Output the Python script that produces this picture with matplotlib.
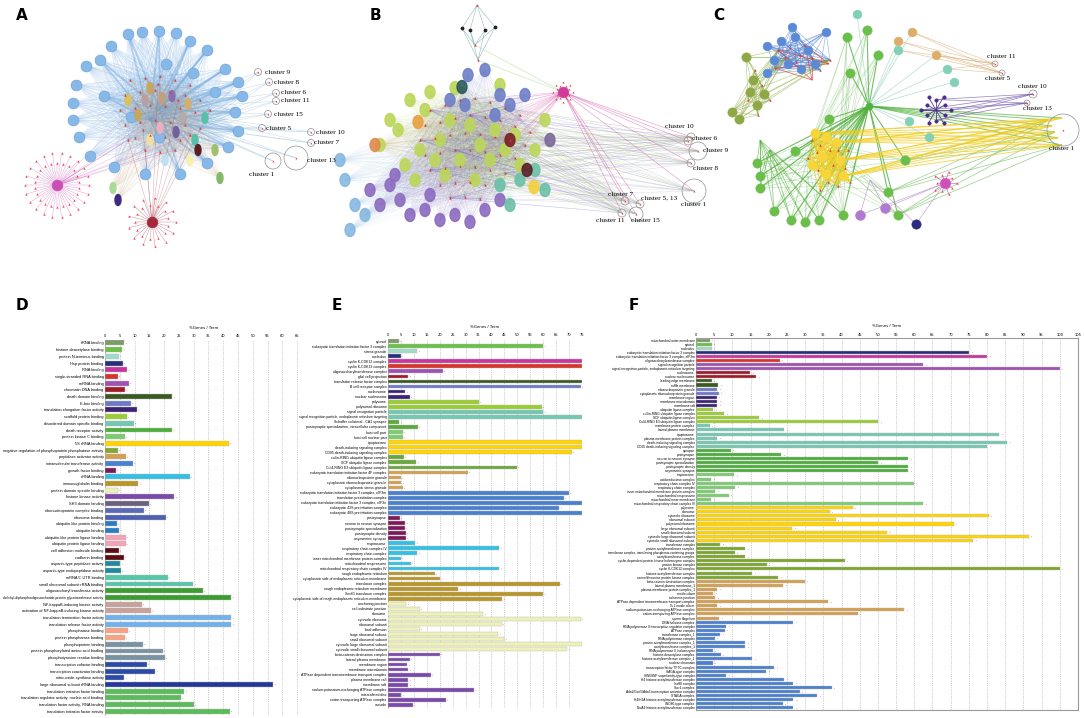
import numpy as np
import matplotlib.pyplot as plt
from matplotlib.collections import LineCollection
from matplotlib.patches import Circle, Ellipse

W, H = 1084, 718

# ---------------- bar chart data ----------------
d_labels = ["tRNA binding", "histone deacetylase binding", "protein N-terminus binding", "Hsp protein binding",
            "RNA binding", "single-stranded RNA binding", "mRNA binding", "chromatin DNA binding",
            "death domain binding", "E-box binding", "translation elongation factor activity",
            "scaffold protein binding", "disordered domain specific binding", "death receptor activity",
            "protein kinase C binding", "5S rRNA binding",
            "negative regulation of phosphoprotein phosphatase activity", "peptidase activator activity",
            "intramolecular transferase activity", "growth factor binding", "rRNA binding",
            "immunoglobulin binding", "protein domain specific binding", "histone kinase activity",
            "SH3 domain binding", "ribonucleoprotein complex binding", "ribosome binding",
            "ubiquitin-like protein binding", "ubiquitin binding", "ubiquitin-like protein ligase binding",
            "ubiquitin protein ligase binding", "cell adhesion molecule binding", "cadherin binding",
            "aspartic-type peptidase activity", "aspartic-type endopeptidase activity", "mRNA 5'-UTR binding",
            "small ribosomal subunit rRNA binding", "oligosaccharyl transferase activity",
            "dolichyl-diphosphooligosaccharide-protein glycotransferase activity",
            "NF-kappaB-inducing kinase activity", "activation of NF-kappaB-inducing kinase activity",
            "translation termination factor activity", "translation release factor activity",
            "phosphatase binding", "protein phosphatase binding", "phosphoprotein binding",
            "protein phosphorylated amino acid binding", "phosphotyrosine residue binding",
            "transcription cofactor binding", "transcription coactivator binding",
            "nitric-oxide synthase activity", "large ribosomal subunit rRNA binding",
            "translation initiation factor binding", "translation regulator activity, nucleic acid binding",
            "translation factor activity, RNA binding", "translation initiation factor activity"]
d_values = [6.5, 5.8, 4.6, 6.0, 7.5, 4.3, 8.0, 6.8, 22.8, 8.8, 10.8, 7.4, 9.7, 22.8, 6.8, 41.8,
            4.3, 7.1, 9.5, 3.7, 28.8, 11.3, 4.3, 23.4, 14.9, 13.1, 20.5, 4.0, 4.9, 7.0, 7.0, 4.6,
            6.3, 5.2, 5.4, 21.2, 29.9, 33.2, 42.8, 12.4, 15.6, 42.8, 42.8, 7.7, 6.8, 12.8, 19.5,
            20.3, 14.1, 17.0, 6.5, 57.0, 26.9, 25.7, 30.1, 42.3]
d_groups = [('#7d9b6a', 1), ('#6cc04a', 1), ('#9fdcc8', 1), ('#27307a', 1), ('#c8359e', 1),
            ('#d8352a', 1), ('#a052b4', 1), ('#a21a2a', 1), ('#3b5a22', 1), ('#6c7ac8', 1),
            ('#3c2274', 1), ('#9acd32', 1), ('#72c8b0', 1), ('#4caf3c', 1), ('#7ccc70', 1),
            ('#ffd400', 1), ('#82a832', 1), ('#d4a050', 1), ('#4a80d0', 1), ('#7a1a5a', 1),
            ('#34c0e4', 1), ('#b8962a', 1), ('#eef2b8', 1), ('#7a4aaa', 1), ('#6a6080', 1),
            ('#5a6ab4', 1), ('#5060b0', 1), ('#2a7cc4', 2), ('#f4a2b8', 2), ('#5a0c12', 2),
            ('#208a9a', 2), ('#56c6aa', 2), ('#3c9c32', 2), ('#c8a29a', 2), ('#72b2e8', 2),
            ('#f8a282', 2), ('#7a92a2', 3), ('#2c4aa8', 3), ('#24389c', 1), ('#5cbc5c', 4)]

e_labels = ["cytosol", "eukaryotic translation initiation factor 3 complex", "stress granule", "nucleolus",
            "cyclin K-CDK12 complex", "cyclin K-CDK13 complex", "oligosaccharyltransferase complex",
            "glial cell projection", "translation release factor complex", "B cell receptor complex",
            "nucleosome", "nuclear nucleosome", "polysome", "polysomal ribosome", "signal recognition particle",
            "signal recognition particle, endoplasmic reticulum targeting", "Schaffer collateral - CA1 synapse",
            "postsynaptic specialization, intracellular component", "host cell part", "host cell nuclear part",
            "ripoptosome", "death-inducing signaling complex", "CD95 death-inducing signaling complex",
            "cullin-RING ubiquitin ligase complex", "SCF ubiquitin ligase complex",
            "Cul4-RING E3 ubiquitin ligase complex", "eukaryotic translation initiation factor 4F complex",
            "ribonucleoprotein granule", "cytoplasmic ribonucleoprotein granule", "cytoplasmic stress granule",
            "eukaryotic translation initiation factor 3 complex, eIF3m", "translation preinitiation complex",
            "eukaryotic translation initiation factor 3 complex, eIF3e", "eukaryotic 43S preinitiation complex",
            "eukaryotic 48S preinitiation complex", "postsynapse", "neuron to neuron synapse",
            "postsynaptic specialization", "postsynaptic density", "asymmetric synapse", "respirasome",
            "respiratory chain complex IV", "respiratory chain complex",
            "inner mitochondrial membrane protein complex", "mitochondrial respirasome",
            "mitochondrial respiratory chain complex IV", "rough endoplasmic reticulum",
            "cytoplasmic side of endoplasmic reticulum membrane", "translocon complex",
            "rough endoplasmic reticulum membrane", "Sec61 translocon complex",
            "cytoplasmic side of rough endoplasmic reticulum membrane", "anchoring junction",
            "cell-substrate junction", "ribosome", "cytosolic ribosome", "ribosomal subunit", "focal adhesion",
            "large ribosomal subunit", "small ribosomal subunit", "cytosolic large ribosomal subunit",
            "cytosolic small ribosomal subunit", "beta-catenin destruction complex", "lateral plasma membrane",
            "membrane region", "membrane microdomain", "ATPase dependent transmembrane transport complex",
            "plasma membrane raft", "membrane raft", "sodium:potassium-exchanging ATPase complex",
            "intercalated disc", "cation-transporting ATPase complex", "vacuole"]
e_values = [4.1, 60, 11.4, 4.9, 75, 75, 21.3, 7.8, 75, 74.5, 6.7, 8.4, 35.2, 59.5, 60, 75, 4.4, 11.6,
            5.8, 5.8, 75, 75, 71, 6, 10.9, 49.7, 30.8, 4.9, 5.2, 5.7, 70, 68, 75, 66.2, 75, 4.5, 6.7,
            6.5, 6.9, 6.9, 10.6, 43, 11.4, 4.9, 8.8, 43, 18.1, 20, 66.5, 27.2, 60, 44.2, 7.1, 12.2,
            36.9, 74.5, 44, 12.4, 42.7, 45, 75, 69.3, 20, 8.5, 7.5, 7.8, 16.6, 7.8, 7.8, 33.4, 5.2,
            22.3, 9.7]
e_groups = [('#7d9b6a', 1), ('#6cc04a', 1), ('#9fdcc8', 1), ('#27307a', 1), ('#c8359e', 1),
            ('#d8352a', 1), ('#a052b4', 1), ('#a21a2a', 1), ('#3b5a22', 1), ('#6c7ac8', 1),
            ('#3c2274', 2), ('#9acd32', 2), ('#72c8b0', 2), ('#5aaa3c', 2), ('#7ccc70', 2),
            ('#ffd400', 3), ('#6aa83a', 3), ('#d4a050', 4), ('#4a80d0', 5), ('#7a1a5a', 5),
            ('#34c0e4', 6), ('#b8962a', 6), ('#eef2b8', 10), ('#7a4aaa', 11)]

f_labels = ["mitochondrial outer membrane", "cytosol", "nucleolus",
            "eukaryotic translation initiation factor 3 complex",
            "eukaryotic translation initiation factor 3 complex, eIF3m", "oligosaccharyltransferase complex",
            "signal recognition particle", "signal recognition particle, endoplasmic reticulum targeting",
            "nucleosome", "nuclear nucleosome", "leading edge membrane", "ruffle membrane",
            "ribonucleoprotein granule", "cytoplasmic ribonucleoprotein granule", "membrane region",
            "membrane microdomain", "membrane raft", "ubiquitin ligase complex",
            "cullin-RING ubiquitin ligase complex", "SCF ubiquitin ligase complex",
            "Cul4-RING E3 ubiquitin ligase complex", "membrane protein complex", "lateral plasma membrane",
            "ripoptosome", "plasma membrane protein complex", "death-inducing signaling complex",
            "CD95 death-inducing signaling complex", "synapse", "postsynapse", "neuron to neuron synapse",
            "postsynaptic specialization", "postsynaptic density", "asymmetric synapse", "respirasome",
            "oxidoreductase complex", "respiratory chain complex IV", "respiratory chain complex",
            "inner mitochondrial membrane protein complex", "mitochondrial respirasome",
            "mitochondrial inner membrane", "mitochondrial respiratory chain complex IV", "polysome",
            "ribosome", "cytosolic ribosome", "ribosomal subunit", "polysomal ribosome",
            "large ribosomal subunit", "small ribosomal subunit", "cytosolic large ribosomal subunit",
            "cytosolic small ribosomal subunit", "transferase complex", "protein acetyltransferase complex",
            "transferase complex, transferring phosphorus-containing groups", "acetyltransferase complex",
            "cyclin-dependent protein kinase holoenzyme complex", "protein kinase complex",
            "cyclin K-CDK12 complex", "histone acetyltransferase complex",
            "serine/threonine protein kinase complex", "beta-catenin destruction complex",
            "lateral plasma membrane_1", "plasma membrane protein complex_1", "motile cilium",
            "adherens junction", "ATPase dependent transmembrane transport complex", "9+2 motile cilium",
            "sodium:potassium-exchanging ATPase complex", "cation-transporting ATPase complex",
            "sperm flagellum", "DNA helicase complex", "RNA polymerase II transcription regulator complex",
            "ATPase complex", "transferase complex_1", "RNA polymerase complex",
            "protein acetyltransferase complex_1", "acetyltransferase complex_1",
            "RNA polymerase II, holoenzyme", "histone deacetylase complex",
            "histone acetyltransferase complex_1", "nuclear chromatin", "transcription factor TFTC complex",
            "SAGA-type complex", "SWI/SNF superfamily-type complex", "H4 histone acetyltransferase complex",
            "Ino80 complex", "Swr1 complex", "Ada2/Gcn5/Ada3 transcription activator complex",
            "STAGA complex", "H4/H2A histone acetyltransferase complex", "INO80-type complex",
            "NuA4 histone acetyltransferase complex"]
f_values = [3.8, 4.3, 4.3, 75, 80, 23, 62.5, 100, 14.8, 16.6, 4.3, 6.1, 5.9, 6.2, 5.7, 5.9, 5.9, 4.8,
            7.7, 17.3, 50, 3.8, 24.2, 83.4, 5.9, 85.5, 80, 9.5, 23.5, 58.4, 50, 58.4, 58.4, 10.5, 4.2,
            59.8, 10.7, 5.3, 9, 4.2, 62.5, 43.1, 36.7, 80.4, 38.4, 70.8, 26.5, 52.6, 91.4, 76.2, 6.6,
            13.6, 10.6, 13.6, 40.9, 19.4, 100, 15.4, 22.6, 29.9, 23.9, 5.9, 4.8, 5.3, 36.4, 5.9, 57.2,
            44.4, 6.4, 26.7, 8.2, 7.9, 6.6, 5.1, 13.6, 13.6, 4.6, 6.8, 15.4, 4.6, 21.4, 19.2, 8.2,
            24.3, 26.7, 37.3, 28.5, 33.3, 26.7, 23.8, 26.7]
f_groups = [('#7d9b6a', 1), ('#6cc04a', 1), ('#9fdcc8', 1), ('#27307a', 1), ('#c8359e', 1),
            ('#d8352a', 1), ('#a052b4', 2), ('#a21a2a', 2), ('#3b5a22', 2), ('#6c7ac8', 2),
            ('#3c2274', 3), ('#9acd32', 4), ('#72c8b0', 6), ('#4caf3c', 6), ('#7ccc70', 8),
            ('#ffd400', 9), ('#7ca62a', 9), ('#d4a050', 10), ('#4a80d0', 22)]

# ---------------- network data (pixel positions) ----------------
a_terms = [(128, 34), (142, 32), (159, 31), (176, 33), (190, 41), (111, 46), (207, 50), (86, 66),
           (225, 69), (76, 85), (238, 82), (73, 103), (242, 96), (73, 120), (235, 112), (79, 137),
           (238, 131), (90, 156), (228, 147), (114, 167), (207, 163), (145, 174), (180, 174),
           (193, 73), (104, 96), (159, 137), (131, 117), (166, 64), (100, 60), (215, 92)]
a_genes = [(130, 80), (145, 78), (160, 76), (175, 80), (190, 85), (125, 95), (140, 92), (155, 90),
           (170, 92), (185, 95), (200, 100), (120, 110), (135, 108), (150, 105), (165, 106), (180, 108),
           (195, 112), (125, 125), (140, 122), (155, 120), (170, 122), (185, 125), (200, 128),
           (135, 138), (150, 135), (165, 137), (180, 140), (145, 150), (160, 152), (175, 150),
           (158, 84), (178, 100), (143, 130), (190, 135), (128, 140), (210, 110)]
a_core = [(150, 88, '#c9a65a'), (172, 96, '#8a6fb0'), (138, 115, '#c9a65a'), (183, 118, '#b8a8a8'),
          (160, 128, '#e8b0c0'), (195, 140, '#58c0a8'), (128, 100, '#d9c060'), (176, 132, '#7060a0'),
          (205, 118, '#58c0a8'), (162, 98, '#c0a080'), (150, 140, '#f0e0a0'), (198, 150, '#5a1e22'),
          (165, 160, '#c0e0f0'), (190, 160, '#f8f0b0'), (220, 178, '#86b86a'), (113, 188, '#a8dc96'),
          (118, 200, '#3c2a80'), (215, 150, '#a0c070'), (145, 100, '#b8a0a0'), (188, 104, '#d0b070')]
a_hubs = [(57, 185, '#c94fb4', 44, 32), (152, 222, '#a2283a', 26, 24)]
a_clusters = [("cluster 9", 265, 72, 258, 72, 3.5), ("cluster 8", 274, 82, 269, 82, 3.5),
              ("cluster 6", 281, 93, 276, 93, 3.5), ("cluster 11", 281, 101, 276, 101, 3.5),
              ("cluster 15", 274, 114, 268, 114, 3.5), ("cluster 5", 266, 128, 262, 128, 3.5),
              ("cluster 10", 316, 132, 311, 132, 3.5), ("cluster 7", 314, 143, 311, 143, 3.5),
              ("cluster 13", 307, 161, 296, 158, 12), ("cluster 1", 249, 175, 273, 161, 8)]

b_genes = [(430, 110), (445, 105), (460, 100), (475, 98), (490, 102), (505, 108), (520, 115),
           (425, 125), (440, 122), (455, 118), (470, 115), (485, 117), (500, 120), (515, 126),
           (530, 132), (420, 140), (435, 138), (450, 135), (465, 133), (480, 134), (495, 137),
           (510, 140), (525, 145), (425, 155), (440, 153), (455, 150), (470, 150), (485, 152),
           (500, 155), (515, 158), (430, 170), (445, 168), (460, 166), (475, 167), (490, 170),
           (505, 173), (440, 185), (455, 183), (470, 182), (485, 185), (450, 198), (465, 197), (480, 199)]
b_terms = ([(x, y, '#bcd65a') for x, y in [(410, 100), (430, 92), (455, 88), (500, 85), (398, 130),
                                           (420, 150), (440, 140), (470, 125), (495, 130), (515, 135),
                                           (460, 160), (490, 160), (520, 165), (405, 165), (445, 175),
                                           (535, 150), (545, 120), (380, 145), (390, 120), (425, 110),
                                           (450, 120), (480, 145), (505, 150), (435, 160), (415, 180),
                                           (475, 180)]]
           + [(x, y, '#8c6cc0') for x, y in [(390, 185), (400, 200), (410, 215), (425, 210), (440, 220),
                                             (455, 215), (470, 222), (430, 195), (395, 175), (485, 210),
                                             (500, 200), (370, 190), (380, 205)]]
           + [(x, y, '#6f7fc8') for x, y in [(468, 75), (485, 70), (500, 95), (510, 105), (525, 95),
                                             (495, 115), (450, 100), (465, 105)]]
           + [(x, y, '#6cc0a8') for x, y in [(520, 180), (535, 170), (545, 190), (500, 185), (510, 205)]]
           + [(x, y, '#86b8e0') for x, y in [(340, 160), (345, 180), (355, 205), (365, 215), (350, 230)]]
           + [(375, 145, '#e08a50'), (418, 122, '#e8a040'), (510, 140, '#7a1e2a'), (527, 170, '#5a1e28'),
              (462, 87, '#2e5a5a'), (534, 187, '#f4d03c'), (550, 140, '#7a6a9a')])
b_hub = (563, 92, '#d03c9a')
b_top = [(477, 5), (462, 28), (470, 30), (485, 30), (495, 27), (475, 45), (478, 60)]
b_clusters = [("cluster 10", 665, 127, 691, 137, 4), ("cluster 6", 692, 138, 688, 141, 4),
              ("cluster 9", 703, 150, 698, 151, 9), ("cluster 8", 693, 169, 691, 163, 4),
              ("cluster 7", 608, 195, 625, 201, 4), ("cluster 5, 13", 641, 198, 640, 204, 4),
              ("cluster 1", 681, 205, 694, 191, 12), ("cluster 11", 596, 221, 622, 213, 4),
              ("cluster 15", 631, 221, 636, 214, 7)]

c_green_hub = (869, 106)
c_green = [(757, 163), (760, 176), (760, 188), (774, 211), (791, 220), (805, 222), (819, 220), (843, 215),
           (888, 192), (898, 215), (905, 160), (829, 119), (847, 37), (867, 30), (878, 55), (850, 73),
           (795, 151)]
c_yellow = [(815, 133), (826, 137), (836, 142), (822, 156), (840, 160), (826, 174), (843, 176), (812, 165)]
c_yellow_genes = [(812, 140), (820, 145), (830, 150), (838, 150), (817, 152), (833, 165), (845, 168),
                  (818, 170), (828, 182), (838, 186), (820, 190), (848, 150), (808, 158), (850, 182)]
c_blue = [(767, 46), (781, 41), (795, 37), (808, 50), (774, 60), (788, 64), (801, 69), (815, 64),
          (826, 32), (767, 73), (792, 27)]
c_blue_genes = [(778, 50), (790, 48), (800, 55), (812, 58), (785, 58), (796, 62), (805, 45), (820, 70),
                (830, 60), (775, 68)]
c_olive = [(746, 57), (753, 80), (750, 92), (757, 105), (764, 94), (739, 119), (732, 112)]
c_olive_genes = [(755, 70), (762, 85), (770, 100), (748, 100), (758, 115)]
c_teal = [(898, 50), (947, 69), (954, 82), (909, 121), (929, 137), (857, 14)]
c_tan = [(912, 32), (936, 55), (898, 41)]
c_star = (936, 110)
c_magenta = (945, 183)
c_purple = [(860, 215), (885, 208)]
c_navy = (916, 224)
c_clusters = [("cluster 11", 987, 56, 995, 64, 3), ("cluster 5", 985, 78, 1002, 73, 3),
              ("cluster 10", 1018, 87, 1033, 94, 4), ("cluster 13", 1023, 108, 1027, 103, 3),
              ("cluster 1", 1049, 149, 1063, 130, 16)]
c1_targets = [(1048, 120), (1052, 126), (1055, 132), (1058, 138), (1062, 145), (1062, 118)]

fig = plt.figure(figsize=(W / 100, H / 100), dpi=100)
net = fig.add_axes([0, 0, 1, 1])
net.set_xlim(0, W)
net.set_ylim(H, 0)
net.axis('off')


def web(srcs, dsts, color, lw=0.3, alpha=0.15):
    segs = [[(s[0], s[1]), (d[0], d[1])] for s in srcs for d in dsts]
    net.add_collection(LineCollection(segs, colors=color, linewidths=lw, alpha=alpha, zorder=1))


def nodes(pts, color, s=40, ec=None, z=3):
    pts = np.array([p[:2] for p in pts], dtype=float)
    net.scatter(pts[:, 0], pts[:, 1], s=s, color=color, edgecolors=ec or color, linewidths=0.4, zorder=z)


def genes(pts, color='#e8323c', s=3):
    pts = np.array(pts, dtype=float)
    net.scatter(pts[:, 0], pts[:, 1], s=s, marker='^', color=color, linewidths=0, zorder=4)


def ring(cx, cy, n, r):
    ang = np.linspace(0, 2 * np.pi, n, endpoint=False)
    rr = np.where(np.arange(n) % 2 == 0, r, r * 0.7)
    return list(zip(cx + rr * np.cos(ang), cy + rr * np.sin(ang)))


def clusters(lst):
    for name, tx, ty, cx, cy, r in lst:
        net.add_patch(Circle((cx, cy), r, fill=False, ec='#909090', lw=0.5, zorder=5))
        genes([(cx, cy)], s=2)
        net.text(tx, ty, name, fontsize=5.2, family='Liberation Serif', va='center', ha='left', zorder=6)


# ---- A ----
web(a_terms, a_genes, '#7fb2e5', 0.4, 0.16)
web(a_terms[::2], [(160, 110), (150, 120)], '#6aa4de', 1.3, 0.45)
web([c[:2] for c in a_core], a_genes, '#c8a070', 0.3, 0.1)
for hx, hy, hc, n, r in a_hubs:
    leaves = ring(hx, hy, n, r)
    web([(hx, hy)], leaves, hc, 0.3, 0.6)
    web([(hx, hy)], a_genes[-9:], hc, 0.4, 0.35)
    genes(leaves, '#f04a60', 3)
    nodes([(hx, hy)], hc, s=60)
web([(160, 110), (185, 125), (200, 128)], [c[3:5] for c in a_clusters], '#8fb8d8', 0.35, 0.5)
nodes(a_terms, '#86b8e8', s=62, ec='#6a9fd6')
for x, y, c in a_core:
    net.add_patch(Ellipse((x, y), 6, 11, color=c, zorder=3))
genes(a_genes)
clusters(a_clusters)

# ---- B ----
for x, y, c in b_terms:
    web([(x, y)], b_genes, c, 0.3, 0.09)
web([b_hub[:2]], b_genes[::2], b_hub[2], 0.35, 0.3)
web([b_hub[:2]], [c[3:5] for c in b_clusters], b_hub[2], 0.45, 0.5)
web([b_hub[:2]], [(475, 45), (478, 60)], '#9ad06a', 0.4, 0.6)
web(b_genes[::5], [c[3:5] for c in b_clusters], '#7a6ad0', 0.3, 0.3)
web(b_genes[2::6], [c[3:5] for c in b_clusters], '#b0d060', 0.3, 0.3)
web(b_top[1:5], [b_top[0], b_top[5], b_top[6]], '#6a9a9a', 0.4, 0.7)
for x, y, c in b_terms:
    net.add_patch(Ellipse((x, y), 10, 13, color=c, alpha=0.9, zorder=3))
nodes([b_hub[:2]], b_hub[2], s=60)
net.scatter([p[0] for p in b_top[1:5]], [p[1] for p in b_top[1:5]], s=3, color='#202020', zorder=4)
genes([b_top[0], b_top[5], b_top[6]])
genes(b_genes)
genes(ring(563, 92, 16, 10), '#f04a60', 2.5)
clusters(b_clusters)

# ---- C ----
web([c_green_hub], c_green, '#52b03c', 0.8, 0.8)
web([c_green_hub], c_yellow_genes, '#52b03c', 0.5, 0.6)
web([c_green_hub], c1_targets, '#52b03c', 0.7, 0.7)
web(c_green, c_yellow_genes[::3], '#52b03c', 0.35, 0.45)
web(c_green[8:11], c1_targets[::2], '#52b03c', 0.5, 0.6)
web(c_yellow, c_yellow_genes, '#f2cc1a', 0.6, 0.7)
web(c_yellow[::2], c1_targets, '#f2cc1a', 0.7, 0.7)
web(c_blue, c_blue_genes, '#4f7fd0', 0.45, 0.6)
web(c_blue_genes[::3], [(829, 64), (812, 80)], '#d83030', 0.6, 0.7)
web(c_olive, c_olive_genes + c_blue_genes[::4], '#8aa83a', 0.45, 0.6)
web(c_teal + c_tan, [c_green_hub], '#7ccab4', 0.5, 0.6)
web(c_tan + c_teal[:2], [(995, 64), (1002, 73)], '#d4a060', 0.45, 0.6)
star_leaves = ring(c_star[0], c_star[1], 12, 15)
web([c_star], star_leaves, '#4a2a8a', 0.6, 0.9)
web(star_leaves[::3], [(1027, 103), (1033, 94)], '#6a4aa8', 0.5, 0.7)
mag_leaves = ring(c_magenta[0], c_magenta[1], 10, 12)
web([c_magenta], mag_leaves, '#c850b0', 0.5, 0.8)
web(c_purple + [c_navy], [c_magenta, (870, 180)], '#a070c0', 0.5, 0.6)
web(c_green[:8], [(760, 140), (770, 150)], '#52b03c', 0.6, 0.6)
nodes(c_green, '#6abf4b', s=45)
nodes(c_yellow, '#f8d63a', s=45)
nodes(c_blue, '#5a8ad6', s=40)
nodes(c_olive, '#8fa846', s=45)
nodes(c_teal, '#82d0b8', s=40)
nodes(c_tan, '#dcae6a', s=40)
nodes(c_purple, '#b07ad0', s=50)
nodes([c_navy], '#2a2a80', s=45)
nodes([c_magenta], '#d04fb8', s=55)
nodes([c_green_hub], '#52b03c', s=25)
nodes(star_leaves, '#4a2a8a', s=6)
genes(c_yellow_genes + c_blue_genes + c_olive_genes)
genes(mag_leaves, '#f04a60', 3)
clusters(c_clusters)


# ---------------- bar panels ----------------
def expand(groups):
    out = []
    for c, n in groups:
        out += [c] * n
    return out


LABEL_FONT = ['Liberation Sans Narrow', 'Liberation Sans', 'DejaVu Sans']


def bar_panel(l, t, w, h, labels, values, groups, xmax, tmax, fs, frame=False):
    ax = fig.add_axes([l / W, 1 - (t + h) / H, w / W, h / H])
    y = np.arange(len(values))
    v = np.minimum(values, xmax)
    ax.barh(y, v, height=0.74, color=expand(groups), edgecolor='#b8b8b8', linewidth=0.3, zorder=3)
    ax.scatter(v + xmax * 0.007, y, marker='*', s=0.6, color='#e02020', linewidths=0, zorder=4)
    ax.set_xlim(0, xmax)
    ax.set_ylim(len(values) - 0.5, -0.5)
    ax.set_yticks(y)
    ax.set_yticklabels(labels, fontsize=fs, family=LABEL_FONT)
    # the very long term names are squeezed so they stay inside the figure
    for lbl in ax.get_yticklabels():
        n = len(lbl.get_text())
        if n > 58:
            lbl.set_fontsize(fs * 58 / n)
    ticks = np.arange(0, tmax + 1, 5)
    ax.set_xticks(ticks)
    ax.set_xticklabels([str(t) for t in ticks], fontsize=2.6)
    ax.xaxis.tick_top()
    ax.tick_params(length=0, pad=1)
    ax.grid(axis='x', linestyle=(0, (2, 2)), color='#a8a8a8', linewidth=0.4, zorder=0)
    for s in ['top', 'right', 'bottom']:
        ax.spines[s].set_visible(frame)
    for s in ax.spines.values():
        s.set_color('#9a9a9a')
        s.set_linewidth(0.8 if frame else 0.5)
    ax.set_title('%Genes / Term', fontsize=2.8, pad=4)
    ax.set_facecolor('none')
    return ax


bar_panel(105, 339.6, 198, 375, d_labels, d_values, d_groups, 67, 65, 2.8)
bar_panel(388, 338.5, 194, 369, e_labels, e_values, e_groups, 75, 75, 2.5)
bar_panel(696, 338, 382, 372, f_labels, f_values, f_groups, 105, 105, 2.3, frame=True)

for letter, x, y in [('A', 22, 16), ('B', 375, 16), ('C', 719, 16), ('D', 22, 305), ('E', 337, 305),
                     ('F', 634, 305)]:
    net.text(x, y, letter, fontsize=11, fontweight='bold', ha='center', va='center')

fig.savefig('out.png', dpi=100)
